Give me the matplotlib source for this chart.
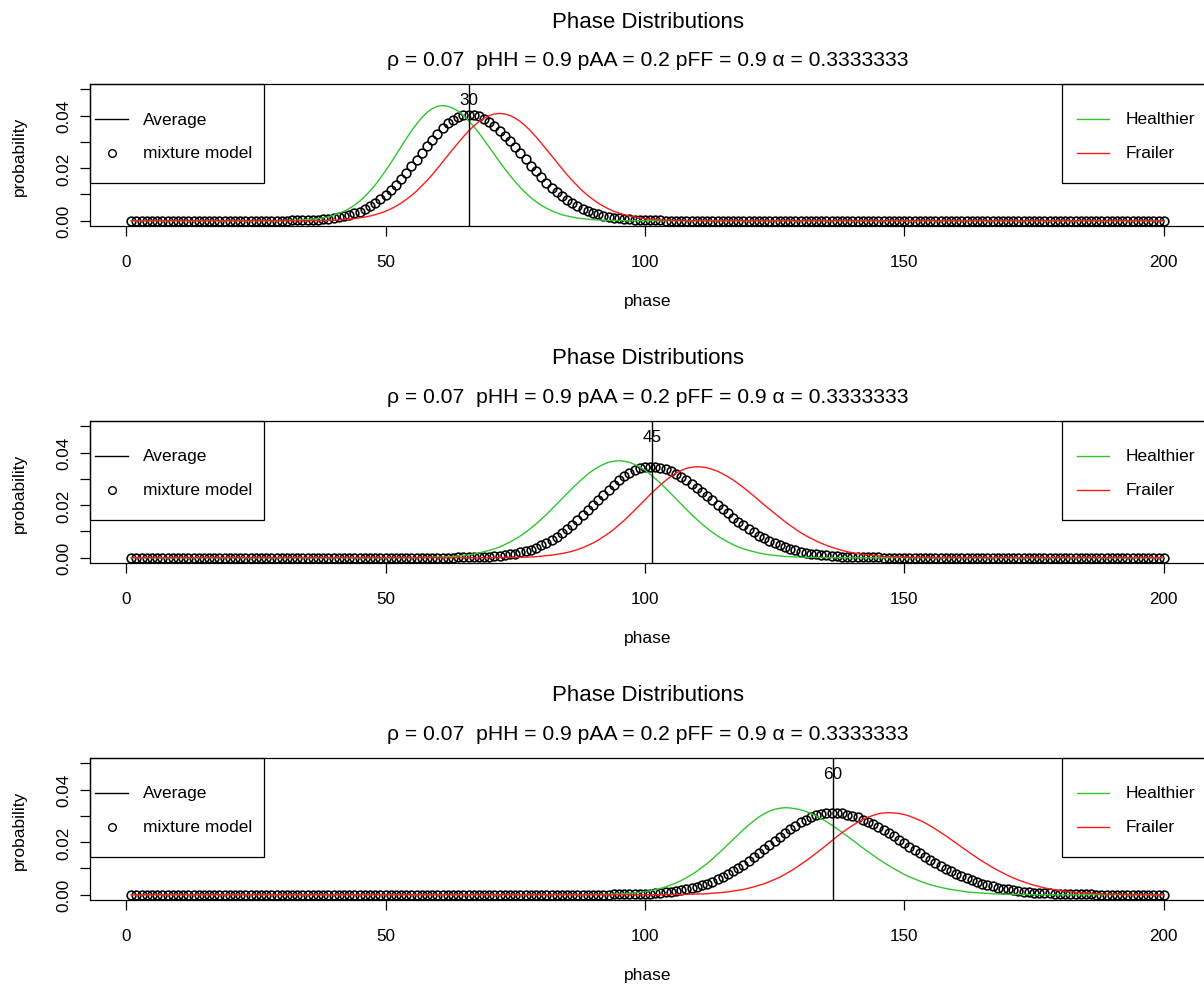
import numpy as np
import matplotlib.pyplot as plt
from matplotlib.patches import Rectangle
from matplotlib.lines import Line2D

plt.rcParams['font.family'] = ['Liberation Sans', 'DejaVu Sans']

phase = np.arange(1, 201)

# probabilities, in units of 1e-4,
# (first non-zero phase, values); every other phase is 0
healthier_1 = (31, [1, 1, 2, 3, 4, 6, 8, 11, 15, 21, 28, 36, 46, 59, 74, 92, 113, 136, 162, 190,
                    219, 250, 281, 312, 342, 368, 392, 412, 426, 435, 438, 435, 428, 417, 401, 381,
                    359, 334, 307, 279, 252, 224, 197, 172, 148, 126, 106, 88, 73, 59, 48, 38, 30,
                    23, 18, 14, 10, 8, 6, 4, 3, 2, 1, 1, 1])
frailer_1 = (37, [1, 1, 2, 2, 3, 5, 6, 8, 11, 14, 18, 23, 29, 36, 45, 55, 67, 81, 96, 113, 133,
                  153, 175, 199, 223, 248, 272, 296, 319, 341, 360, 377, 390, 400, 406, 408, 406,
                  400, 390, 377, 360, 341, 319, 296, 272, 248, 223, 199, 175, 153, 133, 113, 96,
                  81, 67, 55, 45, 36, 29, 23, 18, 14, 11, 8, 6, 5, 3, 2, 2, 1, 1])
mixture_1 = (32, [1, 1, 1, 2, 3, 4, 5, 7, 10, 13, 17, 22, 28, 35, 44, 55, 67, 82, 98, 116, 137,
                  158, 182, 207, 232, 258, 283, 308, 331, 352, 370, 384, 395, 402, 404, 402, 397,
                  388, 376, 361, 343, 324, 302, 280, 257, 234, 210, 188, 166, 145, 126, 109, 93,
                  79, 66, 55, 45, 37, 30, 24, 19, 15, 12, 9, 7, 5, 4, 3, 2, 2, 1, 1])

healthier_2 = (56, [1, 1, 1, 2, 2, 3, 4, 5, 7, 9, 11, 14, 18, 23, 28, 34, 41, 50, 60, 71, 83, 97,
                    112, 128, 146, 164, 184, 204, 224, 244, 264, 283, 301, 318, 333, 345, 355, 363,
                    367, 369, 367, 363, 355, 345, 333, 318, 301, 283, 264, 244, 224, 204, 184, 164,
                    146, 128, 112, 97, 83, 71, 60, 50, 41, 34, 28, 23, 18, 14, 11, 9, 7, 5, 4, 3,
                    2, 2, 1, 1, 1])
frailer_2 = (73, [1, 1, 1, 2, 2, 3, 4, 6, 8, 10, 13, 16, 20, 25, 31, 38, 47, 56, 67, 80, 93, 108,
                  125, 142, 161, 180, 200, 220, 240, 259, 277, 294, 309, 322, 332, 340, 344, 346,
                  345, 342, 336, 329, 319, 308, 296, 282, 267, 251, 235, 218, 201, 185, 169, 153,
                  137, 123, 109, 96, 84, 74, 64, 55, 47, 40, 34, 28, 23, 19, 16, 13, 11, 9, 7, 5,
                  4, 3, 3, 2, 2, 1, 1, 1])
mixture_2 = (64, [1, 1, 1, 2, 2, 3, 4, 6, 8, 10, 13, 16, 20, 25, 31, 38, 47, 56, 67, 80, 93, 108,
                  125, 142, 161, 180, 200, 220, 240, 259, 277, 294, 309, 322, 332, 340, 344, 346,
                  345, 342, 336, 329, 319, 308, 296, 282, 267, 251, 235, 218, 201, 185, 169, 153,
                  137, 123, 109, 96, 84, 74, 64, 55, 47, 40, 34, 28, 23, 19, 16, 13, 11, 9, 7, 5,
                  4, 3, 3, 2, 2, 1, 1, 1])

healthier_3 = (90, [1, 1, 1, 2, 2, 3, 4, 6, 7, 9, 12, 15, 19, 24, 30, 37, 45, 54, 65, 76, 89, 104,
                    119, 136, 154, 172, 191, 210, 229, 248, 265, 281, 296, 308, 318, 325, 329, 331,
                    330, 327, 323, 317, 309, 300, 289, 278, 265, 252, 237, 223, 208, 193, 178, 164,
                    150, 136, 123, 111, 99, 88, 77, 68, 60, 52, 45, 38, 33, 28, 24, 20, 17, 14, 11,
                    9, 8, 6, 5, 4, 3, 3, 2, 2, 1, 1, 1])
frailer_3 = (105, [1, 1, 1, 2, 2, 3, 3, 4, 6, 7, 9, 11, 14, 17, 20, 25, 30, 36, 42, 50, 58, 67, 78,
                   89, 101, 115, 128, 143, 158, 173, 189, 205, 221, 236, 250, 263, 275, 286, 295,
                   302, 308, 311, 312, 311, 309, 305, 299, 291, 283, 273, 262, 250, 237, 224, 210,
                   196, 182, 168, 154, 141, 128, 116, 104, 93, 83, 73, 64, 56, 49, 42, 36, 31, 26,
                   22, 19, 16, 13, 11, 9, 7, 6, 5, 4, 3, 2, 2, 2, 1, 1, 1])
mixture_3 = (94, [1, 1, 1, 2, 2, 3, 3, 4, 6, 7, 9, 11, 14, 17, 20, 25, 30, 36, 42, 50, 58, 67, 78,
                  89, 101, 115, 128, 143, 158, 173, 189, 205, 221, 236, 250, 263, 275, 286, 295,
                  302, 308, 311, 312, 311, 309, 305, 300, 294, 286, 278, 268, 257, 246, 234, 222,
                  209, 196, 183, 170, 157, 144, 132, 121, 109, 99, 89, 79, 71, 63, 55, 48, 42, 37,
                  32, 27, 23, 20, 17, 14, 12, 10, 8, 7, 6, 5, 4, 3, 3, 2, 2, 1, 1, 1])

healthier = [healthier_1, healthier_2, healthier_3]
frailer = [frailer_1, frailer_2, frailer_3]
mixture = [mixture_1, mixture_2, mixture_3]
avg_phase = [66.0, 101.4, 136.2]
avg_label = ['30', '45', '60']
label_y = 0.0462

title = 'Phase Distributions'
subtitle = 'ρ = 0.07  pHH = 0.9 pAA = 0.2 pFF = 0.9 α = 0.3333333'

green = '#2ec52e'
red = '#ff1a1a'


def full(series):
    start, vals = series
    y = np.zeros(len(phase))
    y[start - 1:start - 1 + len(vals)] = vals
    return y / 1e4


W, H = 1204, 987
AX_W, AX_H = 1115, 142  # axes size in pixels
fig = plt.figure(figsize=(W / 100, H / 100), dpi=100)
bottoms_px = [227, 564, 901]


def px(dx, dy):
    # pixel offset from the axes' top-left corner -> axes fraction
    return dx / AX_W, 1 - dy / AX_H


for i in range(3):
    ax = fig.add_axes([90 / W, 1 - bottoms_px[i] / H, AX_W / W, AX_H / H])

    ax.plot(phase, full(mixture[i]), 'o', mfc='none', mec='black', ms=6.3, mew=1.15)
    ax.plot(phase, full(healthier[i]), color=green, lw=1.0)
    ax.plot(phase, full(frailer[i]), color=red, lw=1.0)
    ax.axvline(avg_phase[i], color='black', lw=1.0)
    ax.text(avg_phase[i], label_y, avg_label[i], ha='center', va='center', fontsize=12.3)

    ax.set_xlim(-6.96, 207.96)
    ax.set_ylim(-0.002, 0.052)
    ax.set_xticks([0, 50, 100, 150, 200])
    ax.set_yticks([0, 0.01, 0.02, 0.03, 0.04, 0.05])
    ax.set_yticklabels(['0.00', '', '0.02', '', '0.04', ''])
    ax.tick_params(length=7.5, width=0.9, labelsize=12.3)
    ax.tick_params(axis='x', pad=13)
    ax.tick_params(axis='y', pad=6)
    for lab in ax.get_yticklabels():
        lab.set_rotation(90)
        lab.set_va('center')
    for s in ax.spines.values():
        s.set_linewidth(0.9)

    ax.set_xlabel('phase', fontsize=12.5)
    ax.xaxis.set_label_coords(0.5, -75 / AX_H)
    ax.xaxis.label.set_va('center')
    ax.set_ylabel('probability', fontsize=12.5)
    ax.yaxis.set_label_coords(-71 / AX_W, 0.5)
    ax.yaxis.label.set_va('center')

    ax.annotate(title, xy=(0.5, 1), xycoords='axes fraction', xytext=(0, 63 * 0.72),
                textcoords='offset points', ha='center', va='center', fontsize=16)
    ax.annotate(subtitle, xy=(0.5, 1), xycoords='axes fraction', xytext=(0, 24 * 0.72),
                textcoords='offset points', ha='center', va='center', fontsize=15.2)

    # left legend
    x0, y0 = px(0, 99)
    ax.add_patch(Rectangle((x0, y0), 174 / AX_W, 99 / AX_H, transform=ax.transAxes,
                           fill=False, lw=0.9, clip_on=False))
    ax.add_line(Line2D([px(5, 0)[0], px(38, 0)[0]], [px(0, 35)[1]] * 2, color='black', lw=1.0,
                       transform=ax.transAxes))
    ax.add_line(Line2D([px(22, 0)[0]], [px(0, 69)[1]], marker='o', mfc='none', mec='black',
                       ms=5.5, mew=1.0, transform=ax.transAxes))
    ax.text(px(53, 0)[0], px(0, 35)[1], 'Average', transform=ax.transAxes, va='center', fontsize=12.5)
    ax.text(px(53, 0)[0], px(0, 69)[1], 'mixture model', transform=ax.transAxes, va='center',
            fontsize=12.5)

    # right legend
    x0, y0 = px(972, 99)
    ax.add_patch(Rectangle((x0, y0), 200 / AX_W, 99 / AX_H, transform=ax.transAxes,
                           fill=False, lw=0.9, clip_on=False))
    ax.add_line(Line2D([px(987, 0)[0], px(1019, 0)[0]], [px(0, 35)[1]] * 2, color=green, lw=1.0,
                       transform=ax.transAxes))
    ax.add_line(Line2D([px(987, 0)[0], px(1019, 0)[0]], [px(0, 69)[1]] * 2, color=red, lw=1.0,
                       transform=ax.transAxes))
    ax.text(px(1036, 0)[0], px(0, 35)[1], 'Healthier', transform=ax.transAxes, va='center',
            fontsize=12.5)
    ax.text(px(1036, 0)[0], px(0, 69)[1], 'Frailer', transform=ax.transAxes, va='center',
            fontsize=12.5)

fig.savefig('out.png', dpi=100)
